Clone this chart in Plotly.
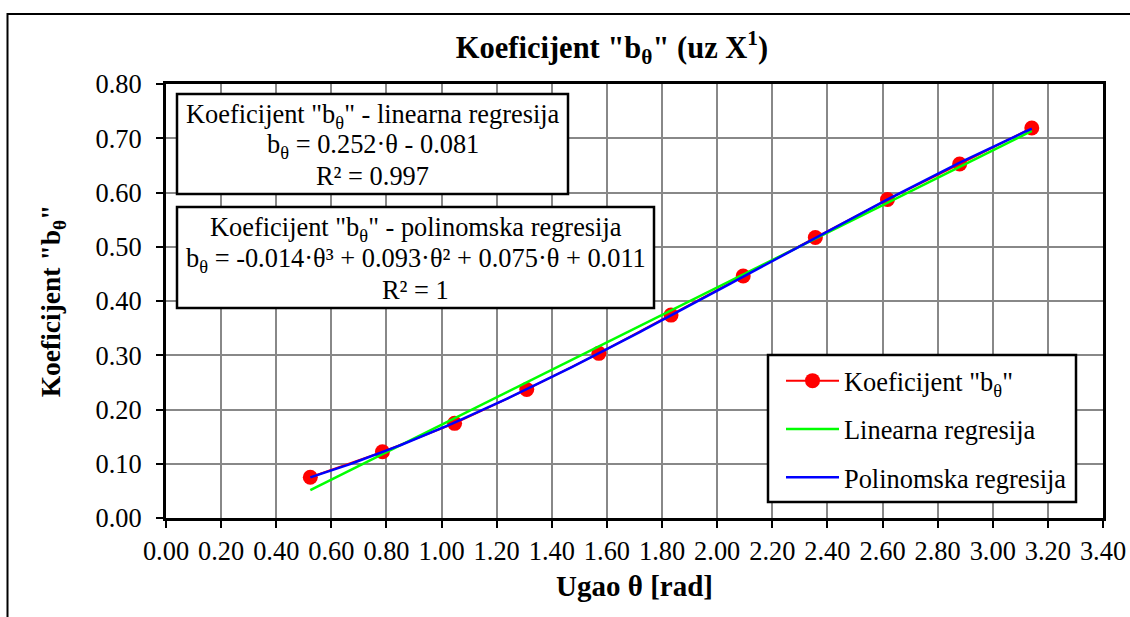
import numpy as np
import plotly.graph_objects as go

# ---- data ----
theta = [0.5236, 0.7854, 1.0472, 1.3090, 1.5708, 1.8326, 2.0944, 2.3562, 2.6180, 2.8798, 3.1416]
b_theta = [0.075, 0.122, 0.1745, 0.237, 0.3035, 0.374, 0.446, 0.517, 0.587, 0.6525, 0.719]

series_names = ['Koeficijent "b<sub>θ</sub>"', 'Linearna regresija', 'Polinomska regresija']
title_text = '<b>Koeficijent "b<sub>θ</sub>" (uz X<sup>1</sup>)</b>'
x_title = '<b>Ugao θ [rad]</b>'
y_title = '<b>Koeficijent "b<sub>θ</sub>"</b>'

box1_lines = ['Koeficijent "b<sub>θ</sub>" - linearna regresija',
              'b<sub>θ</sub> = 0.252·θ - 0.081',
              'R² = 0.997']
box2_lines = ['Koeficijent "b<sub>θ</sub>" - polinomska regresija',
              'b<sub>θ</sub> = -0.014·θ³ + 0.093·θ² + 0.075·θ + 0.011',
              'R² = 1']

# ---- trendlines fitted to the data (as the spreadsheet does) ----
xs = np.linspace(min(theta), max(theta), 200)
lin = np.polyval(np.polyfit(theta, b_theta, 1), xs)
poly = np.polyval(np.polyfit(theta, b_theta, 3), xs)

FONT = "Liberation Serif"
FS = 26.4
W, H = 1130, 617
L, R, T, B = 166, 27, 84, 99
PW, PH = W - L - R, H - T - B


def px(x):
    return (x - L) / PW


def py(y):
    return (H - B - y) / PH


fig = go.Figure()
fig.add_trace(go.Scatter(x=theta, y=b_theta, mode="lines+markers", name=series_names[0],
                         line=dict(color="#FF0000", width=2),
                         marker=dict(color="#FF0000", size=15), legendgroup="a"))
fig.add_trace(go.Scatter(x=xs, y=lin, mode="lines", name=series_names[1],
                         line=dict(color="#00FF00", width=2.5), legendgroup="b"))
fig.add_trace(go.Scatter(x=xs, y=poly, mode="lines", name=series_names[2],
                         line=dict(color="#0000FF", width=2.5), legendgroup="c"))

shapes = []
# outer chart border
shapes.append(dict(type="rect", xref="paper", yref="paper",
                   x0=px(7.5), x1=px(1140), y0=py(14), y1=py(640),
                   line=dict(color="black", width=2), fillcolor="rgba(0,0,0,0)", layer="below"))
# regression boxes
shapes.append(dict(type="rect", xref="paper", yref="paper",
                   x0=px(177), x1=px(568), y0=py(94), y1=py(194),
                   line=dict(color="black", width=2.5), fillcolor="white", layer="above"))
shapes.append(dict(type="rect", xref="paper", yref="paper",
                   x0=px(177), x1=px(654), y0=py(207), y1=py(308),
                   line=dict(color="black", width=2.5), fillcolor="white", layer="above"))
# legend frame
shapes.append(dict(type="rect", xref="paper", yref="paper",
                   x0=px(768), x1=px(1076), y0=py(355), y1=py(502),
                   line=dict(color="black", width=2.5), fillcolor="white", layer="above"))

annotations = []
for txt, yy in zip(box1_lines, [116, 146, 176]):
    annotations.append(dict(text=txt, x=px(372.5), y=py(yy), xref="paper", yref="paper",
                            xanchor="center", yanchor="middle", showarrow=False,
                            font=dict(family=FONT, size=FS, color="black")))
for txt, yy in zip(box2_lines, [229, 260, 290]):
    annotations.append(dict(text=txt, x=px(415.5), y=py(yy), xref="paper", yref="paper",
                            xanchor="center", yanchor="middle", showarrow=False,
                            font=dict(family=FONT, size=FS, color="black")))

fig.update_layout(
    width=W, height=H,
    margin=dict(l=L, r=R, t=T, b=B, autoexpand=False),
    paper_bgcolor="white", plot_bgcolor="white",
    font=dict(family=FONT, size=FS, color="black"),
    title=dict(text=title_text, x=612 / W, xanchor="center", y=1 - 47 / H, yanchor="middle",
               font=dict(family=FONT, size=30.5, color="black")),
    showlegend=True,
    legend=dict(x=px(781), y=py(357), xanchor="left", yanchor="top",
                bgcolor="rgba(0,0,0,0)", borderwidth=0,
                font=dict(family=FONT, size=FS, color="black"),
                traceorder="grouped", tracegroupgap=11, itemwidth=53),
    shapes=shapes,
    annotations=annotations,
)

fig.update_xaxes(range=[0, 3.4], dtick=0.2, tick0=0, tickformat=".2f",
                 showgrid=True, gridcolor="#888888", gridwidth=1.5,
                 showline=True, linecolor="black", linewidth=3, mirror=True,
                 ticks="outside", ticklen=7, tickwidth=2, tickcolor="black",
                 ticklabelstandoff=0, zeroline=False,
                 tickfont=dict(family=FONT, size=FS),
                 title=dict(text=x_title, font=dict(family=FONT, size=29), standoff=12),
                 automargin=False)
fig.update_yaxes(range=[0, 0.8], dtick=0.1, tick0=0, tickformat=".2f",
                 showgrid=True, gridcolor="#888888", gridwidth=1.5,
                 showline=True, linecolor="black", linewidth=3, mirror=True,
                 ticks="outside", ticklen=7, tickwidth=2, tickcolor="black",
                 ticklabelstandoff=9, zeroline=False,
                 tickfont=dict(family=FONT, size=FS),
                 title=dict(text=y_title, font=dict(family=FONT, size=27.5), standoff=27),
                 automargin=False)

fig.write_html("out.html", config={"displayModeBar": False},
               post_script="document.body.style.margin='0';")
